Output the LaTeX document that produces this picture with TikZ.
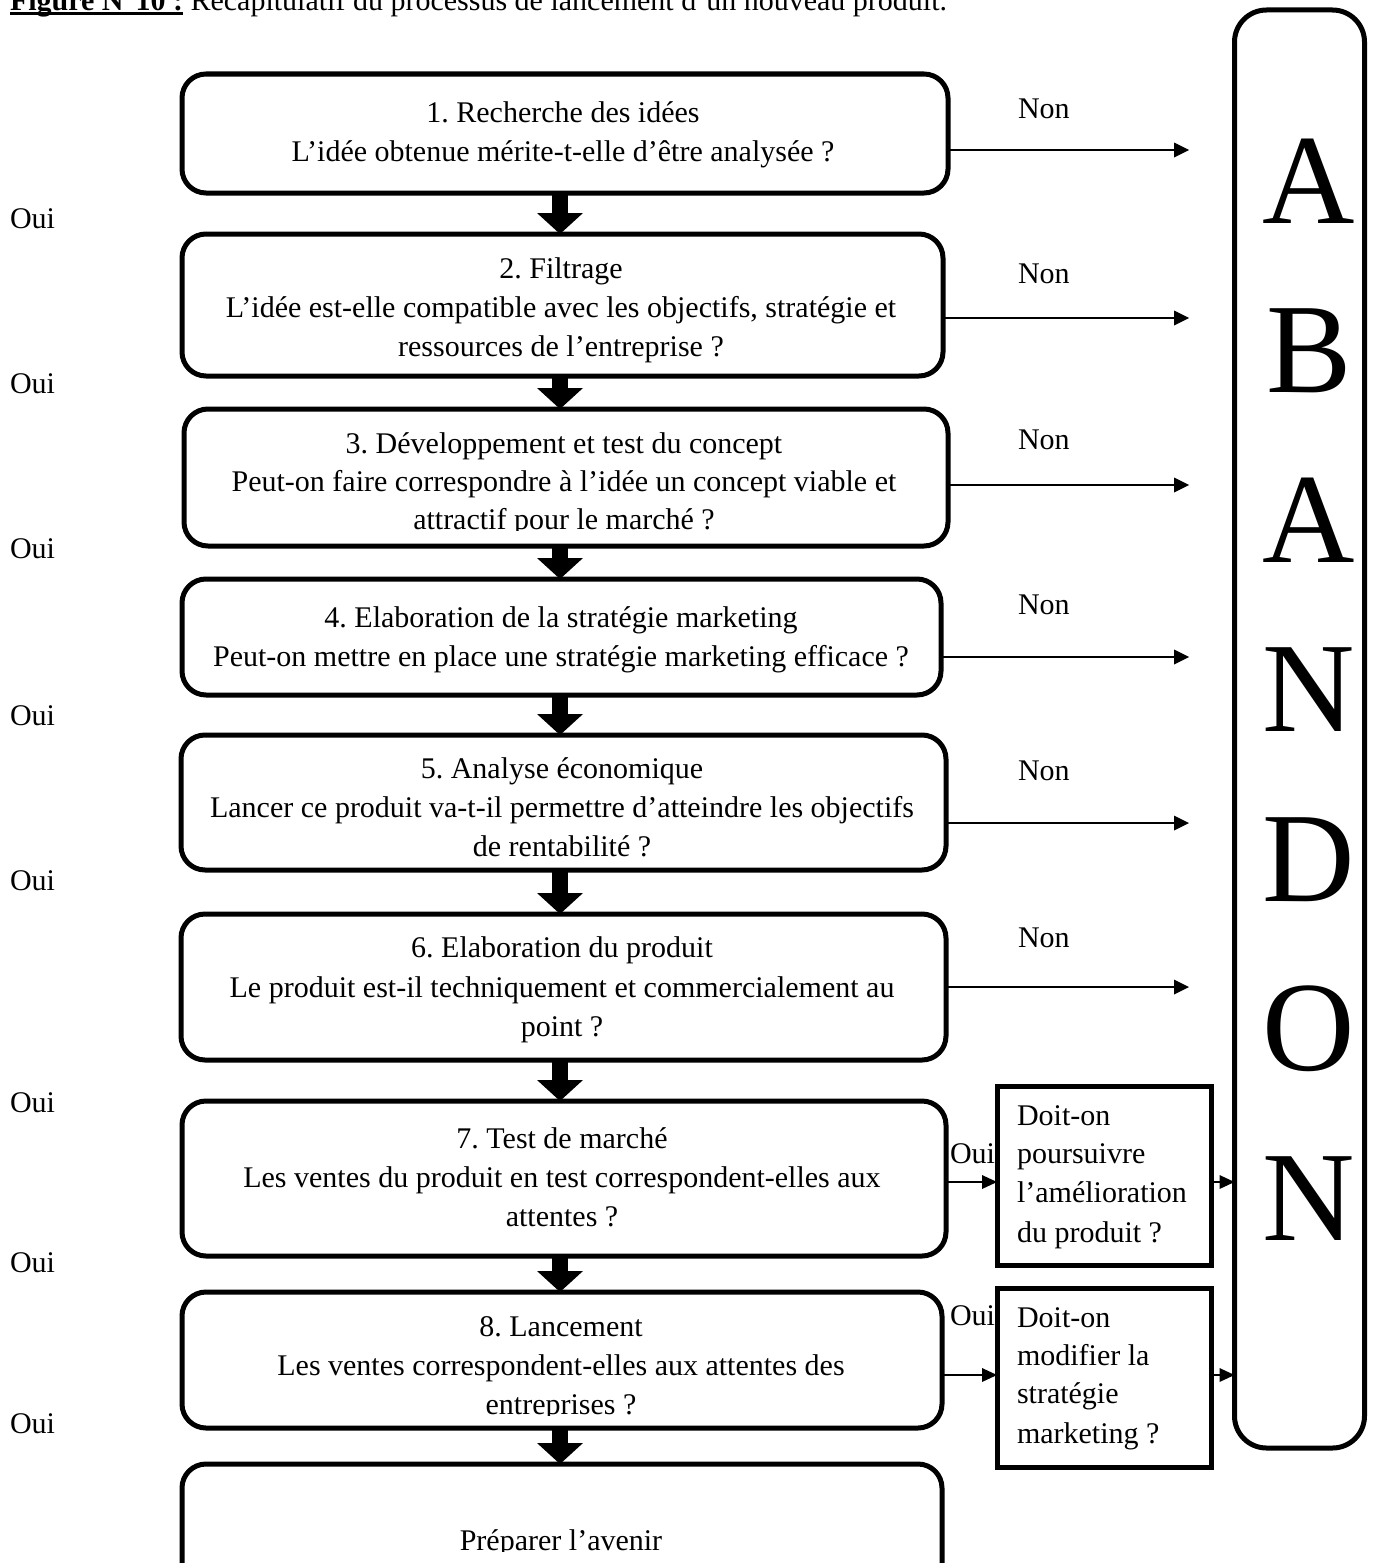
\documentclass[tikz,border=0pt]{standalone}
\usepackage{fontspec}
\setmainfont{Liberation Serif}
\usetikzlibrary{arrows.meta,fit}
\frenchspacing
\begin{document}
\begin{tikzpicture}[x=1pt,y=-1pt,
  rbox/.style={draw, line width=5pt, rounded corners=24pt, inner sep=0pt, outer sep=0pt},
  qbox/.style={draw, line width=5pt, inner sep=0pt, outer sep=0pt},
  abox/.style={draw, line width=5pt, rounded corners=32pt, inner sep=0pt, outer sep=0pt},
  txt/.style={inner sep=0pt, outer sep=0pt, font=\fontsize{30}{40}\selectfont},
  ctxt/.style={txt, anchor=base},
  ltxt/.style={txt, anchor=base west},
  bigl/.style={inner sep=0pt, outer sep=0pt, anchor=base, font=\fontsize{128}{128}\selectfont},
  blockarr/.style={line width=16pt, -{Triangle[length=21pt,width=46pt,line width=0pt]}},
  nonarr/.style={line width=2.5pt, -{Triangle[length=15pt,width=15pt,line width=0pt]}},
  smallarr/.style={line width=2.5pt, -{Triangle[length=15pt,width=14pt,line width=0pt]}},
]
\useasboundingbox (0,0) rectangle (1374,1563);
\clip (0,0) rectangle (1374,1563);
\fill[white] (0,0) rectangle (1374,1563);

% title
\node[ltxt, font=\fontsize{30}{40}\selectfont\bfseries] (titleA) at (10,11) {Figure N°10 :};
\node[ltxt] (titleB) at ([xshift=7.5pt]titleA.base east) {Récapitulatif du processus de lancement d’un nouveau produit.};
\draw[line width=3pt] ([yshift=-2.5pt]titleA.base west) -- ([yshift=-2.5pt]titleA.base east);

% main boxes
\node[rbox, fit={(182,74)(948,193)}] (b1) {};
\node[rbox, fit={(182,234)(943,376)}] (b2) {};
\node[rbox, fit={(184,409)(948,546)}] (b3) {};
\node[rbox, fit={(182,579)(941,695)}] (b4) {};
\node[rbox, fit={(181,735)(946,870)}] (b5) {};
\node[rbox, fit={(181,914)(946,1060)}] (b6) {};
\node[rbox, fit={(182,1101)(946,1256)}] (b7) {};
\node[rbox, fit={(182,1292)(942,1428)}] (b8) {};
\node[rbox, fit={(182,1464)(942,1600)}] (b9) {};

% abandon box
\node[abox, fit={(1234.5,10)(1364.5,1448)}] (ab) {};
\node[bigl] (abA1) at (1309,223) {A};
\node[bigl] (abB) at (1309,392.5) {B};
\node[bigl] (abA2) at (1309,562) {A};
\node[bigl] (abN1) at (1309,731.5) {N};
\node[bigl] (abD) at (1309,901) {D};
\node[bigl] (abO) at (1309,1070.5) {O};
\node[bigl] (abN2) at (1309,1240) {N};

% side question boxes
\node[qbox, fit={(997,1086)(1211,1265)}] (q1) {};
\node[qbox, fit={(997,1288)(1211,1467)}] (q2) {};

% box texts
\node[ctxt] (t1a) at (563,122) {1. Recherche des idées};
\node[ctxt] (t1b) at (563,161) {L’idée obtenue mérite-t-elle d’être analysée ?};
\node[ctxt] (t2a) at (561,278) {2. Filtrage};
\node[ctxt] (t2b) at (561,317) {L’idée est-elle compatible avec les objectifs, stratégie et};
\node[ctxt] (t2c) at (561,356) {ressources de l’entreprise ?};
\node[ctxt] (t3a) at (564,453) {3. Développement et test du concept};
\node[ctxt] (t3b) at (564,491) {Peut-on faire correspondre à l’idée un concept viable et};
\begin{scope}
  \clip (150,495) rectangle (980,530);
  \node[ctxt] (t3c) at (564,529) {attractif pour le marché ?};
\end{scope}
\node[ctxt] (t4a) at (561,627) {4. Elaboration de la stratégie marketing};
\node[ctxt] (t4b) at (561,666) {Peut-on mettre en place une stratégie marketing efficace ?};
\node[ctxt] (t5a) at (562,778) {5. Analyse économique};
\node[ctxt] (t5b) at (562,817) {Lancer ce produit va-t-il permettre d’atteindre les objectifs};
\begin{scope}
  \clip (150,820) rectangle (980,857);
  \node[ctxt] (t5c) at (562,856) {de rentabilité ?};
\end{scope}
\node[ctxt] (t6a) at (562,957) {6. Elaboration du produit};
\node[ctxt] (t6b) at (562,997) {Le produit est-il techniquement et commercialement au};
\node[ctxt] (t6c) at (562,1036) {point ?};
\node[ctxt] (t7a) at (562,1148) {7. Test de marché};
\node[ctxt] (t7b) at (562,1187) {Les ventes du produit en test correspondent-elles aux};
\node[ctxt] (t7c) at (562,1226) {attentes ?};
\node[ctxt] (t8a) at (561,1336) {8. Lancement};
\node[ctxt] (t8b) at (561,1375) {Les ventes correspondent-elles aux attentes des};
\begin{scope}
  \clip (150,1380) rectangle (980,1415);
  \node[ctxt] (t8c) at (561,1414) {entreprises ?};
\end{scope}
\begin{scope}
  \clip (150,1500) rectangle (980,1551);
  \node[ctxt] (t9) at (561,1550) {Préparer l’avenir};
\end{scope}

% side question texts
\node[ltxt] (q1a) at (1017,1125) {Doit-on};
\node[ltxt] (q1b) at (1017,1163) {poursuivre};
\node[ltxt] (q1c) at (1017,1202) {l’amélioration};
\node[ltxt] (q1d) at (1017,1242) {du produit ?};
\node[ltxt] (q2a) at (1017,1327) {Doit-on};
\node[ltxt] (q2b) at (1017,1365) {modifier la};
\node[ltxt] (q2c) at (1017,1403) {stratégie};
\node[ltxt] (q2d) at (1017,1443) {marketing ?};

% Oui labels (left)
\node[ltxt] (o1) at (10,228) {Oui};
\node[ltxt] (o2) at (10,393) {Oui};
\node[ltxt] (o3) at (10,558) {Oui};
\node[ltxt] (o4) at (10,725) {Oui};
\node[ltxt] (o5) at (10,890) {Oui};
\node[ltxt] (o6) at (10,1112) {Oui};
\node[ltxt] (o7) at (10,1272) {Oui};
\node[ltxt] (o8) at (10,1433) {Oui};

% Non labels
\node[ltxt] (n1) at (1018,118) {Non};
\node[ltxt] (n2) at (1018,283) {Non};
\node[ltxt] (n3) at (1018,449) {Non};
\node[ltxt] (n4) at (1018,614) {Non};
\node[ltxt] (n5) at (1018,780) {Non};
\node[ltxt] (n6) at (1018,947) {Non};

% Oui labels (side)
\node[ltxt] (s1) at (950,1163) {Oui};
\node[ltxt] (s2) at (950,1325) {Oui};

% block arrows
\coordinate (ax) at (560,0);
\draw[blockarr] (ax |- b1.south) -- (ax |- b2.north);
\draw[blockarr] (ax |- b2.south) -- (ax |- b3.north);
\draw[blockarr] (ax |- b3.south) -- (ax |- b4.north);
\draw[blockarr] (ax |- b4.south) -- (ax |- b5.north);
\draw[blockarr] (ax |- b5.south) -- (ax |- b6.north);
\draw[blockarr] (ax |- b6.south) -- (ax |- b7.north);
\draw[blockarr] (ax |- b7.south) -- (ax |- b8.north);
\draw[blockarr] (ax |- b8.south) -- (ax |- b9.north);

% Non arrows
\coordinate (e1) at (1189,150);
\coordinate (e2) at (1189,318);
\coordinate (e3) at (1189,485);
\coordinate (e4) at (1189,657);
\coordinate (e5) at (1189,823);
\coordinate (e6) at (1189,987);
\draw[nonarr] (b1.east |- e1) -- (e1);
\draw[nonarr] (b2.east |- e2) -- (e2);
\draw[nonarr] (b3.east |- e3) -- (e3);
\draw[nonarr] (b4.east |- e4) -- (e4);
\draw[nonarr] (b5.east |- e5) -- (e5);
\draw[nonarr] (b6.east |- e6) -- (e6);

% side arrows
\coordinate (y1) at (0,1182);
\coordinate (y2) at (0,1375);
\draw[smallarr] (b7.east |- y1) -- (q1.west |- y1);
\draw[smallarr] (q1.east |- y1) -- (ab.west |- y1);
\draw[smallarr] (b8.east |- y2) -- (q2.west |- y2);
\draw[smallarr] (q2.east |- y2) -- (ab.west |- y2);
\end{tikzpicture}
\end{document}
